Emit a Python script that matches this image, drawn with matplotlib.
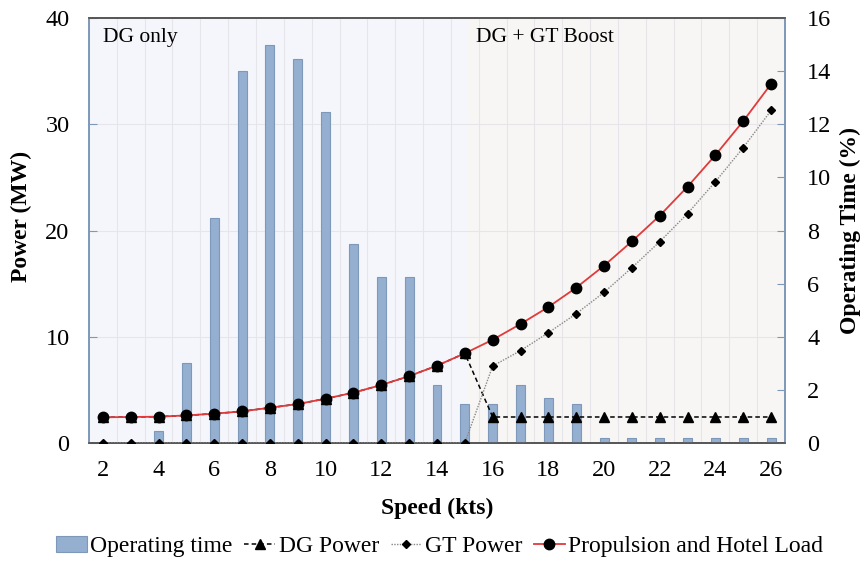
import matplotlib
matplotlib.use("Agg")
import matplotlib.pyplot as plt
import numpy as np

plt.rcParams['font.family'] = ['Liberation Serif', 'DejaVu Serif']

speed = [2, 3, 4, 5, 6, 7, 8, 9, 10, 11, 12, 13, 14,
         15, 16, 17, 18, 19, 20, 21, 22, 23, 24, 25, 26]
# share of time spent at each speed (%)
op_time = [0, 0, 0.47, 3.0, 8.47, 14.0, 15.0, 14.46, 12.45, 7.48, 6.24, 6.24, 2.17,
           1.48, 1.48, 2.17, 1.68, 1.48, 0.2, 0.2, 0.2, 0.2, 0.2, 0.2, 0.2]
# total propulsion + hotel demand (MW)
total_load = [2.42, 2.45, 2.48, 2.6, 2.76, 2.98, 3.32, 3.67, 4.17, 4.74, 5.46, 6.3, 7.28,
              8.44, 9.72, 11.2, 12.8, 14.62, 16.69, 18.98, 21.4, 24.13, 27.1, 30.3, 33.8]
dg_power = [2.42, 2.45, 2.48, 2.6, 2.76, 2.98, 3.32, 3.67, 4.17, 4.74, 5.46, 6.3, 7.28,
            8.44, 2.45, 2.45, 2.45, 2.45, 2.45, 2.45, 2.45, 2.45, 2.45, 2.45, 2.45]
gt_power = [0, 0, 0, 0, 0, 0, 0, 0, 0, 0, 0, 0, 0,
            0, 7.25, 8.69, 10.38, 12.17, 14.18, 16.5, 18.95, 21.6, 24.6, 27.8, 31.3]

boost_start = 15.1   # GT boost mode kicks in here

edge_blue = '#7d98b8'
fs_tick = 17.5
fs = 17

fig = plt.figure(figsize=(8.62, 5.63), dpi=100)
ax = fig.add_axes([0.1032, 0.2131, 0.8075, 0.7549])

x0, x1 = speed[0] - 0.5, speed[-1] + 0.5
ax.set_xlim(x0, x1)
ax.set_ylim(0, 40)
ax.set_facecolor('white')
ax.axvspan(x0, boost_start, color='#f5f6fb', lw=0, zorder=0)
ax.axvspan(boost_start, x1, color='#f7f6f4', lw=0, zorder=0)

# category boundaries as vertical gridlines
ax.set_xticks(np.arange(x0, x1 + 0.01, 1.0), minor=True)
ax.grid(True, which='minor', axis='x', color='#e6e6ea', lw=0.8, zorder=0.5)
ax.grid(True, which='major', axis='y', color='#e6e6ea', lw=0.8, zorder=0.5)
ax.set_axisbelow(True)
ax.set_xticks(speed[::2])
ax.tick_params(axis='x', which='both', length=0, labelsize=fs_tick, pad=12)
ax.set_yticks([0, 10, 20, 30, 40])
ax.tick_params(axis='y', direction='in', length=6, color=edge_blue, labelsize=fs_tick, pad=14)
ax.set_ylabel('Power (MW)', fontsize=fs, fontweight='bold')
ax.yaxis.set_label_coords(-0.082, 0.534)
ax.set_xlabel('Speed (kts)', fontsize=fs, fontweight='bold', labelpad=12)

# operating time bars on the right-hand scale
ax2 = ax.twinx()
ax2.set_ylim(0, 16)
ax2.set_yticks(range(0, 17, 2))
ax2.tick_params(axis='y', direction='in', length=6, color=edge_blue, labelsize=fs_tick, pad=16)
ax2.set_ylabel('Operating Time (%)', fontsize=fs, fontweight='bold')
ax2.yaxis.set_label_coords(1.079, 0.5)
bars = ax2.bar(speed, op_time, width=0.32, color='#94afcf', edgecolor=edge_blue,
               lw=0.8, label='Operating time')

for a in (ax, ax2):
    a.spines['left'].set_color(edge_blue)
    a.spines['right'].set_color(edge_blue)
    a.spines['top'].set_color('#555555')
    a.spines['bottom'].set_color('#555555')
    for s in a.spines.values():
        s.set_linewidth(1.2)

# power curves on a transparent layer above the bars
top = fig.add_axes(ax.get_position(), sharex=ax, sharey=ax)
top.axis('off')
dg, = top.plot(speed, dg_power, color='black', ls=(0, (3, 2)), lw=1.1,
               marker='^', ms=7.5, label='DG Power', zorder=3)
gt, = top.plot(speed, gt_power, color='#888888', ls=(0, (1, 1)), lw=1.0,
               marker='D', ms=4, mfc='black', mec='black', label='GT Power', zorder=3)
load, = top.plot(speed, total_load, color='#e03a3a', lw=1.3, marker='o', ms=7.5,
                 mfc='black', mec='black', label='Propulsion and Hotel Load', zorder=4)

top.text(2.0, 38.2, 'DG only', fontsize=15.5, va='center', ha='left')
top.text(15.4, 38.2, 'DG + GT Boost', fontsize=15.5, va='center', ha='left')

fig.legend(handles=[bars, dg, gt, load], loc='center', bbox_to_anchor=(0.51, 0.029),
           ncol=4, frameon=False, fontsize=fs, handlelength=1.3, handletextpad=0.15,
           columnspacing=0.5, borderaxespad=0)

fig.savefig('out.png', dpi=100)
